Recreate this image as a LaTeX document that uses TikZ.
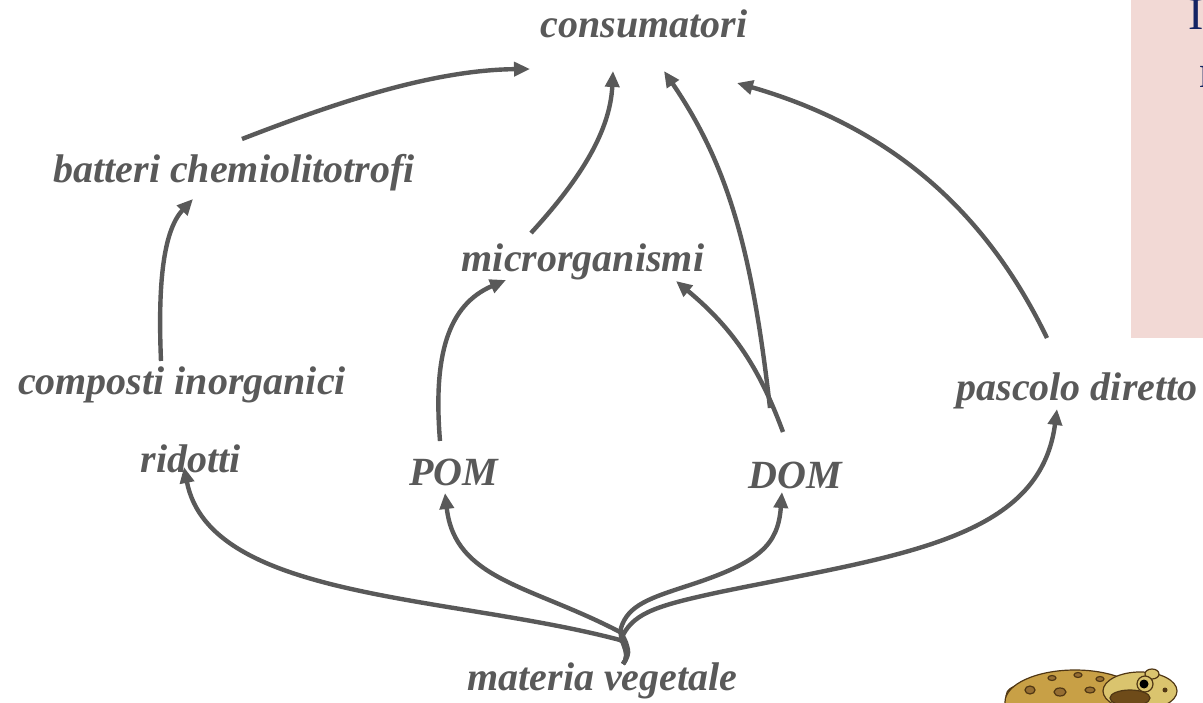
\documentclass[tikz,border=0pt]{standalone}
\usepackage{fontspec}
\setmainfont{Liberation Serif}
\usetikzlibrary{arrows.meta}
\definecolor{txtgray}{RGB}{89,89,89}
\definecolor{pinkbox}{RGB}{242,217,213}
\definecolor{navytxt}{RGB}{20,35,100}
\definecolor{frogbody}{RGB}{200,160,70}
\definecolor{froghead}{RGB}{218,196,110}
\definecolor{frogline}{RGB}{80,55,20}
\definecolor{frogspot}{RGB}{150,110,50}
\definecolor{frogdark}{RGB}{110,75,25}
\begin{document}
\begin{tikzpicture}[x=1pt,y=-1pt,
  lbl/.style={text=txtgray, font=\fontsize{40}{48}\selectfont\bfseries\itshape, inner sep=0pt, anchor=base},
  conn/.style={draw=txtgray, line width=4.4pt, -{Triangle[length=16pt,width=14pt]}},
  navy/.style={text=navytxt, font=\fontsize{46}{52}\selectfont, inner sep=0pt, anchor=base}]
\useasboundingbox (0,0) rectangle (1203,703);

% pink box at top right
\fill[pinkbox] (1131,0) rectangle (1210,338);
\node[navy] (tI) at (1196,30) {I};
\node[navy, anchor=base west] (tn) at (1199,88) {n};

% labels
\node[lbl] (cons) at (644,38) {consumatori};
\node[lbl] (bat) at (234,183) {batteri chemiolitotrofi};
\node[lbl] (micro) at (583,272) {microrganismi};
\node[lbl] (comp) at (182,395) {composti inorganici};
\node[lbl] (rid) at (191,472) {ridotti};
\node[lbl] (pom) at (453.5,485) {POM};
\node[lbl] (dom) at (795.5,488) {DOM};
\node[lbl] (pasc) at (1077,401) {pascolo diretto};
\node[lbl] (mat) at (602.5,690) {materia vegetale};

% connector end points
\coordinate (batS) at (242,139);
\coordinate (consA) at (530,69);
\coordinate (microS) at (531,233);
\coordinate (consB) at (613,71);
\coordinate (domS1) at (770,408);
\coordinate (consC) at (664,71);
\coordinate (domS2) at (783,432);
\coordinate (microA) at (676,281);
\coordinate (pascS) at (1047,338);
\coordinate (consD) at (737,83);
\coordinate (compS) at (161,361);
\coordinate (batA) at (193,199);
\coordinate (pomS) at (440,441);
\coordinate (microB) at (506,280);
\coordinate (matS) at (623,664);
\coordinate (ridA) at (184,467);
\coordinate (pomA) at (445,493);
\coordinate (domA) at (782,492);
\coordinate (pascA) at (1057,409);

% upper connectors
\draw[conn] (batS) .. controls (330,105) and (430,70) .. (consA);
\draw[conn] (microS) .. controls (575,185) and (610,135) .. (consB);
\draw[conn] (domS1) .. controls (752,250) and (728,165) .. (consC);
\draw[conn] (domS2) .. controls (760,370) and (735,330) .. (microA);
\draw[conn] (pascS) .. controls (990,220) and (900,130) .. (consD);
\draw[conn] (compS) .. controls (158,290) and (162,232) .. (batA);
\draw[conn] (pomS) .. controls (433,355) and (448,305) .. (microB);

% branches from materia vegetale
\draw[conn] (matS) .. controls (632,652) and (628,645) .. (620,640)
  .. controls (450,595) and (210,600) .. (ridA);
\draw[conn] (matS) .. controls (632,652) and (626,640) .. (620,632)
  .. controls (530,585) and (455,580) .. (pomA);
\draw[conn] (matS) .. controls (632,652) and (618,642) .. (621,628)
  .. controls (628,605) and (650,598) .. (690,585)
  .. controls (760,562) and (778,545) .. (domA);
\draw[conn] (matS) .. controls (632,652) and (620,645) .. (623,635)
  .. controls (635,612) and (660,605) .. (720,592)
  .. controls (900,555) and (1040,540) .. (pascA);

% frog (partially visible)
\begin{scope}[line width=1.2pt, draw=frogline]
  \filldraw[fill=frogbody] (1022,696) ellipse [x radius=16, y radius=11];
  \filldraw[fill=frogbody] (1075,702) ellipse [x radius=70, y radius=32];
  \filldraw[fill=frogspot] (1052,678) ellipse [x radius=4, y radius=2.5];
  \filldraw[fill=frogspot] (1078,675) ellipse [x radius=4, y radius=2.5];
  \filldraw[fill=frogspot] (1100,679) ellipse [x radius=4, y radius=2.5];
  \filldraw[fill=frogspot] (1060,692) ellipse [x radius=6, y radius=4];
  \filldraw[fill=frogspot] (1090,690) ellipse [x radius=5, y radius=3];
  \filldraw[fill=frogspot] (1030,690) ellipse [x radius=5, y radius=4];
  \filldraw[fill=froghead] (1140,691) ellipse [x radius=37, y radius=19];
  \filldraw[fill=froghead] (1152,674) ellipse [x radius=7, y radius=5];
  \filldraw[fill=frogdark] (1130,698) ellipse [x radius=20, y radius=8];
  \filldraw[fill=froghead] (1145,684) circle [radius=8];
  \fill[black] (1144,684) circle [radius=4.5];
  \fill[frogline] (1165,690) circle [radius=2.5];
\end{scope}
\end{tikzpicture}
\end{document}
